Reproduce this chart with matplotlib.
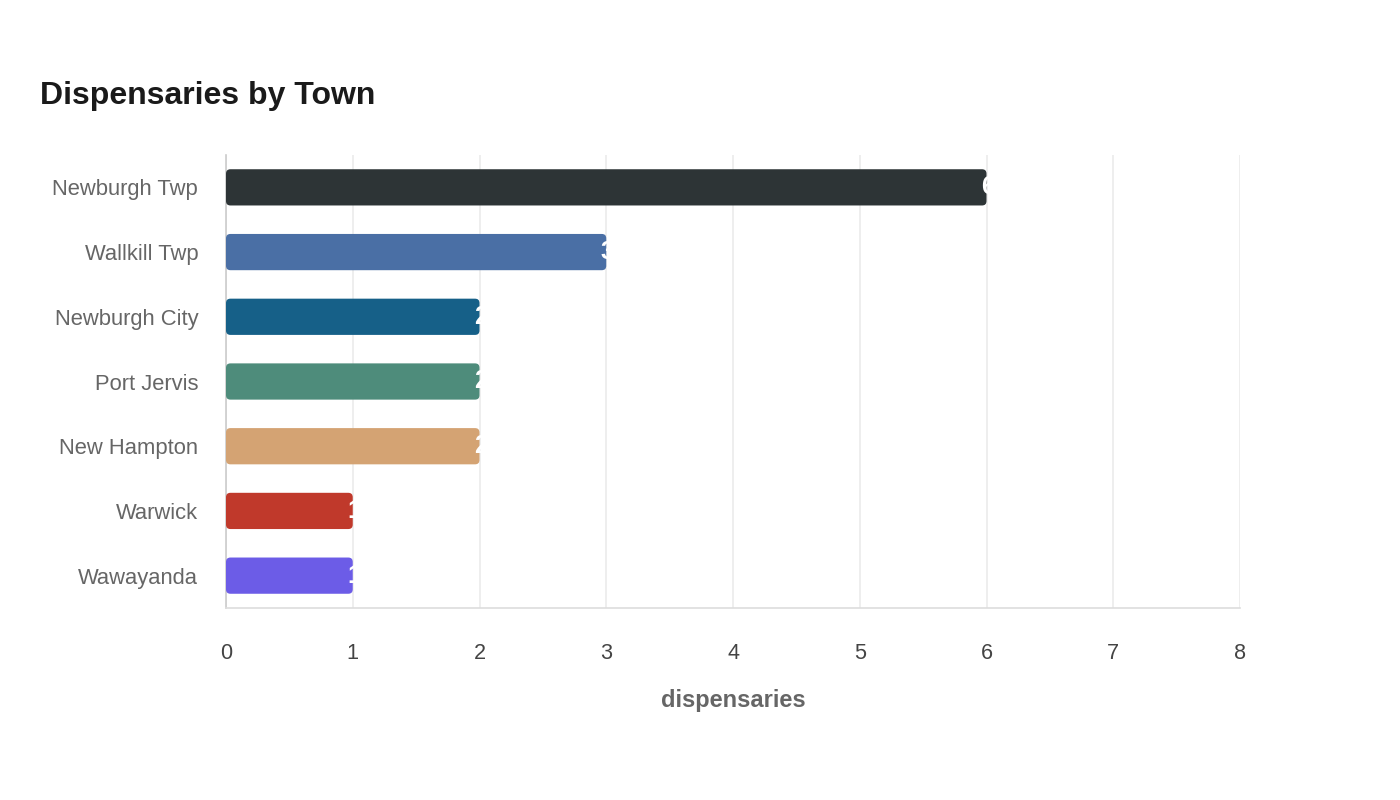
import matplotlib
matplotlib.use("Agg")
import matplotlib.pyplot as plt
from matplotlib.patches import FancyBboxPatch

plt.rcParams['font.family'] = ['Liberation Sans', 'DejaVu Sans']

# datos
towns = ["Newburgh Twp", "Wallkill Twp", "Newburgh City", "Port Jervis",
         "New Hampton", "Warwick", "Wawayanda"]
counts = [6, 3, 2, 2, 2, 1, 1]
colors = ["#2d3436", "#4a6fa5", "#166088", "#4e8c7b",
          "#d4a373", "#c0392b", "#6c5ce7"]

fig = plt.figure(figsize=(14, 8), dpi=100)
ax = fig.add_axes([226/1400, 1 - 608/800, 1014/1400, 453/800])

n = len(towns)
alto = 0.56
# aspecto para las esquinas redondeadas
aspecto = (1/65) / (1/126.75)
for i, (t, v, c) in enumerate(zip(towns, counts, colors)):
    y = n - 1 - i
    p = FancyBboxPatch((0, y - alto/2), v, alto,
                       boxstyle="round,pad=0,rounding_size=0.035",
                       mutation_aspect=aspecto, fc=c, ec="none", zorder=3)
    ax.add_patch(p)
    # etiqueta recortada por la barra
    txt = ax.text(v - 0.045, y, str(v), color="white", fontsize=18, fontweight="bold",
                  ha="left", va="center", zorder=4)
    txt.set_clip_path(p)

ax.set_xlim(0, 8)
ax.set_ylim(-0.5, n - 0.5)
ax.set_yticks(range(n))
ax.set_yticklabels(towns[::-1])
ax.set_xticks(range(0, 9))
ax.tick_params(axis="y", length=0, pad=20, labelsize=15.8, labelcolor="#666666")
ax.tick_params(axis="x", length=0, pad=25, labelsize=15.6, labelcolor="#444444")
ax.grid(axis="x", color="#ebebeb", lw=1.2, zorder=0)
for s in ["top", "right"]:
    ax.spines[s].set_visible(False)
ax.spines["left"].set_color("#cccccc")
ax.spines["bottom"].set_color("#dddddd")
ax.spines["left"].set_linewidth(1.2)
ax.spines["bottom"].set_linewidth(1.2)
ax.set_xlabel("dispensaries", fontsize=17, fontweight="bold", color="#666666", labelpad=18)

fig.text(40/1400, 1 - 96/800, "Dispensaries by Town", fontsize=23, fontweight="bold",
         color="#1a1a1a", ha="left", va="center")

fig.savefig("out.png", dpi=100)
